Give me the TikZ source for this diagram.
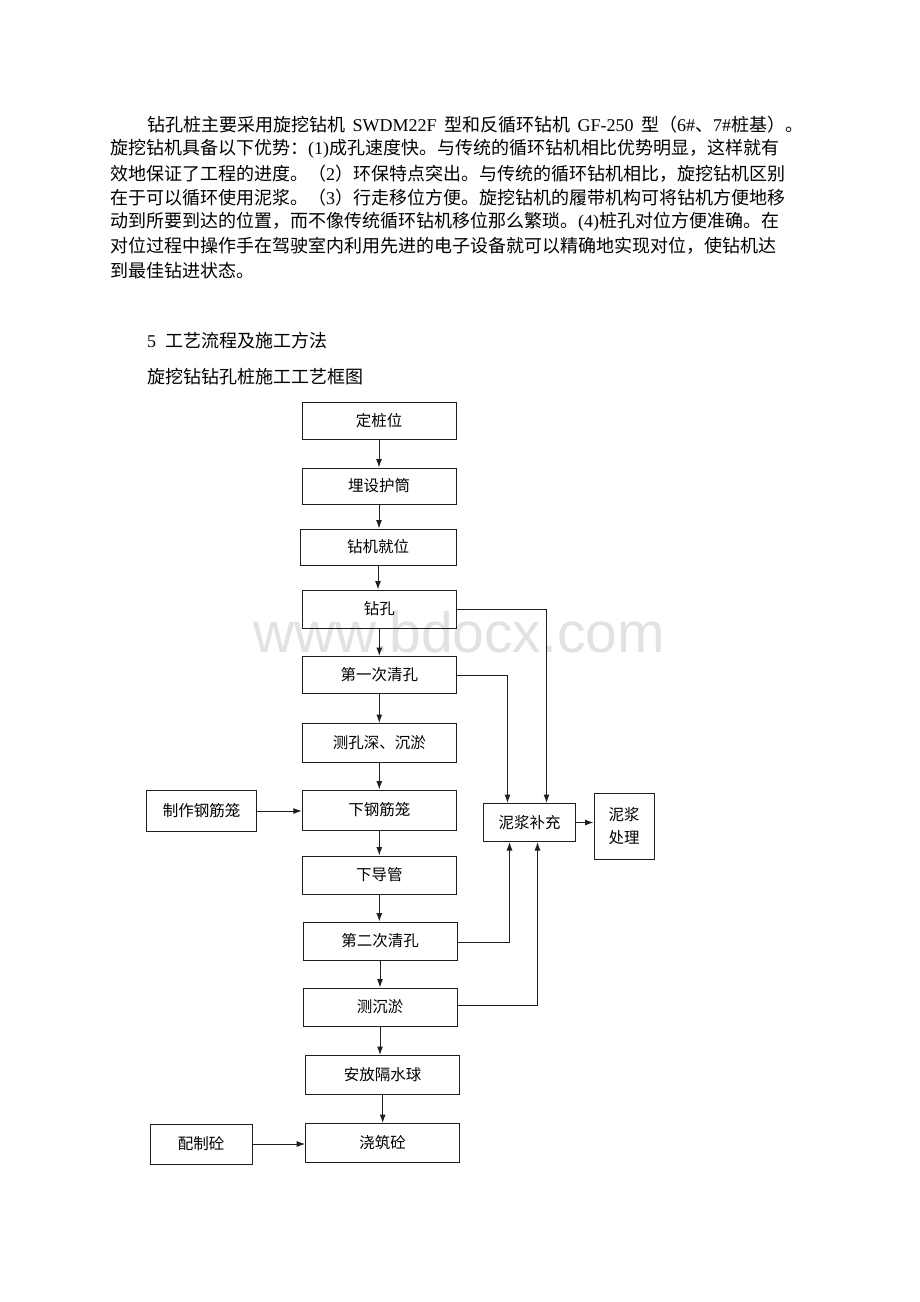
\documentclass[tikz,border=0pt]{standalone}
\usepackage{fontspec}
\setmainfont{Liberation Serif}
\newfontfamily\cjk{Noto Sans CJK SC}
\newfontfamily\wmfont{Liberation Sans}
\usepackage{xcolor}
\usetikzlibrary{arrows.meta, positioning, calc}
\XeTeXlinebreaklocale "zh"
\XeTeXlinebreakskip=0pt plus 2pt
\hbadness=10000
\newcommand{\latn}[1]{{\rmfamily #1}}
\definecolor{framegray}{RGB}{30, 30, 30}
\definecolor{markgray}{RGB}{226, 226, 226}

\begin{document}
\begin{tikzpicture}[
    x=1pt, y=-1pt,
    stepbox/.style={
        rectangle, draw=framegray, line width=1pt,
        minimum width=154pt, minimum height=38pt, inner sep=0pt,
        font=\cjk\fontsize{15.5}{23.5}\selectfont
    },
    para/.style={anchor=west, inner sep=0pt, font=\cjk\fontsize{18}{24}\selectfont},
    arrow/.style={-{Latex[length=8.5pt, width=6pt]}, line width=1pt, draw=framegray}
]
\fill[white] (0,0) rectangle (920,1302);
\useasboundingbox (0,0) rectangle (920,1302);

% Watermark
\node[anchor=base west, inner sep=0pt, text=markgray,
      font=\wmfont\fontsize{57}{57}\selectfont] (mark) at (253, 652) {www.bdocx.com};

% Paragraph
\node[para] (line1) at (147, 125) {\makebox[656pt][s]{钻孔桩主要采用旋挖钻机 \latn{SWDM22F} 型和反循环钻机 \latn{GF-250} 型（\latn{6\#}、\latn{7\#}桩基）。}};
\node[para] (line2) at (110, 149.2) {\makebox[690pt][s]{旋挖钻机具备以下优势：\latn{(1)}成孔速度快。与传统的循环钻机相比优势明显，这样就有}};
\node[para] (line3) at (110, 173.4) {\makebox[692pt][s]{效地保证了工程的进度。（\latn{2}）环保特点突出。与传统的循环钻机相比，旋挖钻机区别}};
\node[para] (line4) at (110, 197.6) {\makebox[692pt][s]{在于可以循环使用泥浆。（\latn{3}）行走移位方便。旋挖钻机的履带机构可将钻机方便地移}};
\node[para] (line5) at (110, 221.8) {\makebox[690pt][s]{动到所要到达的位置，而不像传统循环钻机移位那么繁琐。\latn{(4)}桩孔对位方便准确。在}};
\node[para] (line6) at (110, 246) {\makebox[688pt][s]{对位过程中操作手在驾驶室内利用先进的电子设备就可以精确地实现对位，使钻机达}};
\node[para] (line7) at (110, 270.2) {到最佳钻进状态。};

% Headings
\node[para] (section) at (147, 340.7) {\makebox[180pt][s]{\latn{5} 工艺流程及施工方法}};
\node[para] (caption) at (147, 377) {\makebox[222pt][s]{旋挖钻钻孔桩施工工艺框图}};

% Main steps
\node[stepbox, minimum height=37pt] (stake) at (379, 420.5) {定桩位};
\node[stepbox, minimum height=36pt] (casing) at (379, 486) {埋设护筒};
\node[stepbox, minimum height=36pt, minimum width=156pt] (rig) at (378, 547) {钻机就位};
\node[stepbox] (drill) at (379.3, 609) {钻孔};
\node[stepbox, minimum height=37pt] (clean1) at (379.3, 675) {第一次清孔};
\node[stepbox, minimum height=39pt] (depth) at (379.3, 743) {测孔深、沉淤};
\node[stepbox, minimum height=40pt] (cage) at (379.3, 810) {下钢筋笼};
\node[stepbox] (tremie) at (379.3, 875) {下导管};
\node[stepbox] (clean2) at (380, 941) {第二次清孔};
\node[stepbox] (sediment) at (380, 1007) {测沉淤};
\node[stepbox, minimum height=39pt] (plug) at (382.7, 1075) {安放隔水球};
\node[stepbox, minimum height=39pt] (pour) at (382.7, 1143) {浇筑砼};

% Side steps
\node[stepbox, minimum width=110pt, minimum height=41pt] (cage_make) at (201.7, 811) {制作钢筋笼};
\node[stepbox, minimum width=102pt, minimum height=40pt] (concrete_mix) at (201, 1144) {配制砼};
\node[stepbox, minimum width=92pt, minimum height=38pt] (slurry) at (529.5, 822.5) {泥浆补充};
\node[stepbox, minimum width=60pt, minimum height=66pt, align=center] (slurry_treat) at (624, 826) {泥浆\\处理};

% Arrows down the column
\draw[arrow] (stake.south) -- (stake.south |- casing.north);
\draw[arrow] (casing.south) -- (casing.south |- rig.north);
\draw[arrow] (rig.south) -- (rig.south |- drill.north);
\draw[arrow] (drill.south) -- (drill.south |- clean1.north);
\draw[arrow] (clean1.south) -- (clean1.south |- depth.north);
\draw[arrow] (depth.south) -- (depth.south |- cage.north);
\draw[arrow] (cage.south) -- (cage.south |- tremie.north);
\draw[arrow] (tremie.south) -- (tremie.south |- clean2.north);
\draw[arrow] (clean2.south) -- (clean2.south |- sediment.north);
\draw[arrow] (sediment.south) -- (sediment.south |- plug.north);
\draw[arrow] (plug.south) -- (plug.south |- pour.north);

% Side inputs
\draw[arrow] (cage_make.east) -- (cage_make.east -| cage.west);
\draw[arrow] (concrete_mix.east) -- (concrete_mix.east -| pour.west);

% Slurry loop
\draw[arrow] (drill.east) -| ([xshift=17pt]slurry.north);
\draw[arrow] (clean1.east) -| ([xshift=-22pt]slurry.north);
\draw[arrow] ([yshift=-1.5pt]clean2.east) -| ([xshift=-20pt]slurry.south);
\draw[arrow] ([yshift=2pt]sediment.east) -| ([xshift=8pt]slurry.south);
\draw[arrow] (slurry.east) -- (slurry.east -| slurry_treat.west);

\end{tikzpicture}
\end{document}
